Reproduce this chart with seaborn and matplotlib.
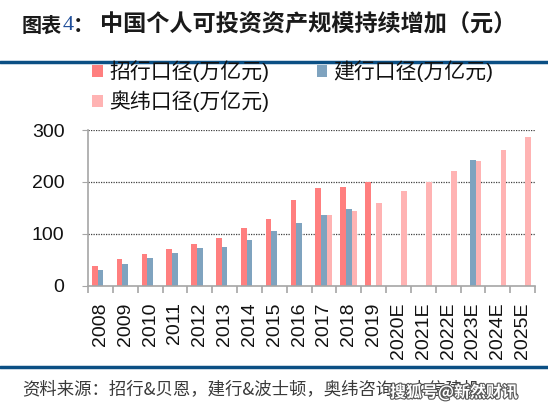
import matplotlib
matplotlib.use("Agg")
import matplotlib.pyplot as plt
import matplotlib.patheffects as pe
import seaborn as sns
import pandas as pd
import numpy as np
from matplotlib.patches import Patch
from matplotlib.lines import Line2D
from matplotlib.ticker import FixedLocator

years = ["2008", "2009", "2010", "2011", "2012", "2013", "2014", "2015", "2016",
         "2017", "2018", "2019", "2020E", "2021E", "2022E", "2023E", "2024E", "2025E"]
cmb = [38, 51, 61, 71, 80, 91, 111, 129, 165, 188, 190, 200,
       None, None, None, None, None, None]
ccb = [30, 41, 53, 63, 73, 75, 88, 106, 120, 136, 147, None,
       None, None, None, 243, None, None]
oliver = [None, None, None, None, None, None, None, None, None, 136, 144, 160,
          182, 199, 220, 241, 261, 287]
series_names = ["招行口径(万亿元)", "建行口径(万亿元)", "奥纬口径(万亿元)"]
colors = ["#FF7F7F", "#7FA3BF", "#FFB3B3"]

rows = []
for name, vals in zip(series_names, [cmb, ccb, oliver]):
    for y, v in zip(years, vals):
        rows.append({"year": y, "series": name, "value": np.nan if v is None else v})
df = pd.DataFrame(rows)

sns.set_style("white")
plt.rcParams["font.family"] = ["Liberation Sans", "Noto Sans CJK SC", "DejaVu Sans"]

fig = plt.figure(figsize=(5.48, 4.11), dpi=100)
ax = fig.add_axes([88 / 548, 1 - 285.5 / 411, (535 - 88) / 548, (285.5 - 130) / 411])

sns.barplot(data=df, x="year", y="value", hue="series", hue_order=series_names,
            palette=colors, order=years, width=0.68, errorbar=None, ax=ax,
            saturation=1, legend=False, linewidth=0)

ax.set_ylim(0, 300)
ax.set_xlim(-0.5, len(years) - 0.5)
ax.set_yticks([0, 100, 200, 300])
ax.set_xlabel("")
ax.set_ylabel("")
for v in [100, 200, 300]:
    ax.axhline(v, color="#404040", lw=0.9, ls=(0, (1, 1)), zorder=0.5)
for s in ["top", "right"]:
    ax.spines[s].set_visible(False)
for s in ["left", "bottom"]:
    ax.spines[s].set_color("#A6A6A6")
    ax.spines[s].set_linewidth(1.2)
ax.tick_params(axis="y", which="major", length=4, color="#A6A6A6", labelsize=14,
               pad=13, direction="out", left=True, labelcolor="#111111")
ax.tick_params(axis="x", which="major", length=0, labelsize=14, pad=12, rotation=90,
               labelcolor="#111111")
ax.xaxis.set_minor_locator(FixedLocator(np.arange(-0.5, len(years), 1.0)))
ax.tick_params(axis="x", which="minor", length=5, color="#A6A6A6", width=1.2,
               direction="out", bottom=True)

# legend: row-major order (招行, 建行 / 奥纬)
handles = [Patch(facecolor=c, edgecolor="none") for c in colors]
order = [0, 2, 1]
fig.legend([handles[i] for i in order], [series_names[i] for i in order],
           loc="upper left", bbox_to_anchor=(84 / 548, 1 - 52 / 411),
           ncol=2, frameon=False, fontsize=15, handlelength=0.5, handleheight=0.5,
           handletextpad=0.3, columnspacing=2.3, labelspacing=0.4, borderaxespad=0,
           labelcolor="#111111")

# title
fig.text(22 / 548, 1 - 25 / 411, "图表", fontsize=14.5, fontweight="bold", color="#1A1A1A",
         va="center", ha="left", family=["Noto Sans CJK SC"])
fig.text(63 / 548, 1 - 25 / 411, "4", fontsize=16, color="#1F4E9A",
         va="center", ha="left", family=["Liberation Serif"])
fig.text(73 / 548, 1 - 25 / 411, "：", fontsize=15, fontweight="bold", color="#1A1A1A",
         va="center", ha="left", family=["Noto Sans CJK SC"])
fig.text(100 / 548, 1 - 25 / 411, "中国个人可投资资产规模持续增加（元）", fontsize=16.7,
         fontweight="bold", color="#1A1A1A", va="center", ha="left", family=["Noto Sans CJK SC"])

fig.add_artist(Line2D([0, 1], [1 - 62 / 411, 1 - 62 / 411], color="#0B4F84", lw=2.5,
                      transform=fig.transFigure))
fig.add_artist(Line2D([0, 1], [1 - 367 / 411, 1 - 367 / 411], color="#0B4F84", lw=2.5,
                      transform=fig.transFigure))

fig.text(22 / 548, 1 - 389 / 411, "资料来源：招行&贝恩，建行&波士顿，奥纬咨询，中信建投",
         fontsize=12.5, style="italic", color="#3A3A3A", va="center", ha="left",
         family=["Noto Sans CJK SC"])
fig.text(390 / 548, 1 - 392 / 411, "搜狐号@新然财讯", fontsize=11.5, fontweight="bold",
         color="white", va="center", ha="left", family=["Noto Sans CJK SC"],
         path_effects=[pe.withStroke(linewidth=1.6, foreground="#555555")])

fig.savefig("out.png", dpi=100)
